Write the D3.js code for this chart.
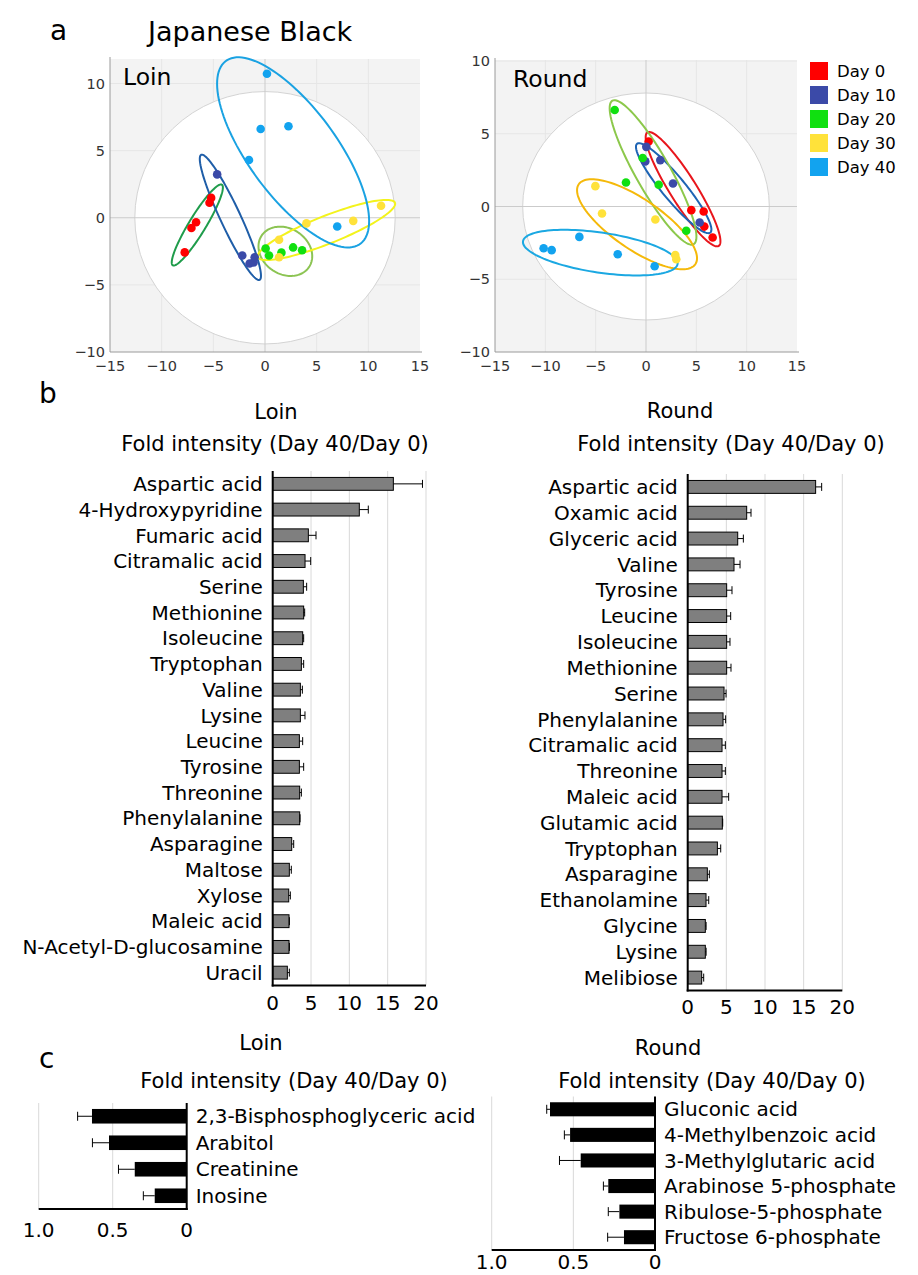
<!DOCTYPE html>
<html>
<head>
<meta charset="utf-8">
<script src="https://cdn.jsdelivr.net/npm/d3@7"></script>
<style>
body { margin: 0; background: #fff; }
svg { display: block; font-family: "DejaVu Sans", sans-serif; }
</style>
</head>
<body>
<svg id="chart" width="918" height="1275"></svg>
<script>
// ---------- data ----------
const dayLabels = ["Day 0", "Day 10", "Day 20", "Day 30", "Day 40"];
const dayColors = ["#ff0000", "#3b4aa8", "#10e010", "#ffe23a", "#12a3ef"];

// PCA scores, one array per day (5 animals)
const loinPcaX = [
	[-7.77, -7.12, -6.67, -5.37, -5.21],
	[-4.63, -2.2, -1.49, -1.1, -1.0],
	[0.06, 0.39, 1.59, 2.72, 3.59],
	[1.36, 1.36, 4.01, 8.54, 11.23],
	[0.19, -0.42, 2.27, -1.55, 6.99]
];
const loinPcaY = [
	[-2.58, -0.76, -0.34, 1.12, 1.48],
	[3.23, -2.81, -3.41, -3.33, -2.94],
	[-2.29, -2.81, -2.6, -2.21, -2.42],
	[-1.64, -2.94, -0.42, -0.23, 0.89],
	[10.73, 6.61, 6.82, 4.3, -0.65]
];
const roundPcaX = [
	[0.26, 4.5, 5.73, 5.79, 6.62],
	[0.03, -0.07, 1.42, 2.68, 5.33],
	[-3.11, -1.99, -0.33, 1.26, 4.0],
	[-5.03, -4.37, 0.93, 2.91, 3.01],
	[-10.17, -9.37, -6.62, -2.81, 0.86]
];
const roundPcaY = [
	[4.47, -0.25, -0.34, -1.38, -2.13],
	[4.1, 3.1, 3.19, 1.58, -1.1],
	[6.63, 1.65, 3.33, 1.49, -1.67],
	[1.4, -0.48, -0.89, -3.33, -3.62],
	[-2.87, -3.0, -2.09, -3.28, -4.11]
];

// group ellipses in score units: centre, major half-axis vector, minor half-axis vector
const loinEllipses = [
	{ cx: -6.55, cy: -0.54, ax: 2.38, ay: 3.0, bx: 0.68, by: -0.35 },
	{ cx: -3.35, cy: 0.03, ax: -2.83, ay: 4.66, bx: 0.87, by: 0.34 },
	{ cx: 1.97, cy: -2.5, ax: 2.4, ay: -1.03, bx: -1.0, by: -1.52 },
	{ cx: 5.95, cy: -0.91, ax: 6.63, ay: 2.02, bx: 0.46, by: -0.97 },
	{ cx: 2.72, cy: 4.87, ax: 6.57, ay: -6.77, bx: 3.31, by: 2.08 }
];
const roundEllipses = [
	{ cx: 3.68, cy: 1.19, ax: 3.54, ay: -3.9, bx: 1.12, by: 0.49 },
	{ cx: 2.75, cy: 1.26, ax: 3.64, ay: -3.05, bx: 0.89, by: 0.51 },
	{ cx: 0.7, cy: 2.34, ax: 4.04, ay: -4.93, bx: 1.5, by: 0.59 },
	{ cx: -0.89, cy: -1.22, ax: 5.79, ay: -2.75, bx: 1.41, by: 1.42 },
	{ cx: -4.54, cy: -3.17, ax: 7.68, ay: -0.78, bx: 0.29, by: 1.36 }
];
const loinEllipseColors = ["#1f9c4b", "#1f5ea8", "#8cc453", "#f3f31c", "#1aa2e2"];
const roundEllipseColors = ["#e8161c", "#1e64b4", "#8cc84b", "#f5b90a", "#1ba8e2"];

// Hotelling T2 ellipse radii (score units)
const loinCircleRadii = [12.6, 9.4];
const roundCircleRadii = [12.25, 7.8];
const pcaXTicks = [-15, -10, -5, 0, 5, 10, 15];
const pcaYTicks = [-10, -5, 0, 5, 10];

// b: increased metabolites (fold Day 40 / Day 0)
const loinUpNames = ["Aspartic acid", "4-Hydroxypyridine", "Fumaric acid", "Citramalic acid", "Serine",
	"Methionine", "Isoleucine", "Tryptophan", "Valine", "Lysine", "Leucine", "Tyrosine", "Threonine",
	"Phenylalanine", "Asparagine", "Maltose", "Xylose", "Maleic acid", "N-Acetyl-D-glucosamine", "Uracil"];
const loinUpValues = [15.74, 11.3, 4.65, 4.22, 4.0, 4.04, 3.91, 3.74, 3.61, 3.61, 3.48, 3.48, 3.52,
	3.52, 2.48, 2.17, 2.09, 2.13, 2.13, 1.91];
const loinUpErrors = [3.8, 1.17, 1.0, 0.74, 0.43, 0.13, 0.13, 0.3, 0.26, 0.6, 0.43, 0.56, 0.22,
	0.05, 0.26, 0.26, 0.21, 0.05, 0.05, 0.26];

const roundUpNames = ["Aspartic acid", "Oxamic acid", "Glyceric acid", "Valine", "Tyrosine", "Leucine",
	"Isoleucine", "Methionine", "Serine", "Phenylalanine", "Citramalic acid", "Threonine", "Maleic acid",
	"Glutamic acid", "Tryptophan", "Asparagine", "Ethanolamine", "Glycine", "Lysine", "Melibiose"];
const roundUpValues = [16.55, 7.63, 6.47, 5.99, 5.04, 5.04, 5.04, 5.04, 4.7, 4.57, 4.44, 4.44, 4.44,
	4.48, 3.84, 2.54, 2.37, 2.28, 2.28, 1.81];
const roundUpErrors = [0.78, 0.56, 0.73, 0.78, 0.69, 0.52, 0.43, 0.56, 0.26, 0.34, 0.43, 0.43, 0.86,
	0.05, 0.43, 0.26, 0.35, 0.1, 0.1, 0.26];
const upTicks = [0, 5, 10, 15, 20];

// c: decreased metabolites
const loinDownNames = ["2,3-Bisphosphoglyceric acid", "Arabitol", "Creatinine", "Inosine"];
const loinDownValues = [0.64, 0.525, 0.351, 0.216];
const loinDownErrors = [0.097, 0.112, 0.11, 0.077];

const roundDownNames = ["Gluconic acid", "4-Methylbenzoic acid", "3-Methylglutaric acid",
	"Arabinose 5-phosphate", "Ribulose-5-phosphate", "Fructose 6-phosphate"];
const roundDownValues = [0.643, 0.52, 0.455, 0.286, 0.218, 0.19];
const roundDownErrors = [0.02, 0.035, 0.13, 0.03, 0.068, 0.1];
const downTicks = [0, 0.5, 1.0];


const svg = d3.select("#chart");
svg.append("rect").attr("width", 918).attr("height", 1275).attr("fill", "#fff");


function drawPca(box, pcaX, pcaY, ellipses, ellipseColors, circleRadii, title) {
	const g = svg.append("g");
	const x = d3.scaleLinear().domain([-15, 15]).range([box.left, box.right]);
	const y = d3.scaleLinear().domain([-10, 10]).range([box.bottom, box.top]);

	// grey plot area
	g.append("rect")
		.attr("x", x(-15)).attr("y", box.bgTop)
		.attr("width", x(15) - x(-15)).attr("height", y(-10) - box.bgTop)
		.attr("fill", "#f3f3f3");

	// faint grid
	g.selectAll("line.vgrid").data(pcaXTicks.filter(t => t !== 0 && Math.abs(t) < 15)).join("line")
		.attr("x1", d => x(d)).attr("x2", d => x(d))
		.attr("y1", box.bgTop).attr("y2", y(-10))
		.attr("stroke", "#e6e6e6");
	g.selectAll("line.hgrid").data(pcaYTicks.filter(t => t !== 0 && t > -10)).join("line")
		.attr("x1", x(-15)).attr("x2", x(15))
		.attr("y1", d => y(d)).attr("y2", d => y(d))
		.attr("stroke", "#e6e6e6");

	// Hotelling ellipse
	g.append("ellipse")
		.attr("cx", x(0)).attr("cy", y(0))
		.attr("rx", x(circleRadii[0]) - x(0)).attr("ry", y(0) - y(circleRadii[1]))
		.attr("fill", "#fff").attr("stroke", "#d4d4d4");

	// zero lines
	g.append("line").attr("x1", x(-15)).attr("x2", x(15)).attr("y1", y(0)).attr("y2", y(0)).attr("stroke", "#cbcbcb");
	g.append("line").attr("x1", x(0)).attr("x2", x(0)).attr("y1", box.bgTop).attr("y2", y(-10)).attr("stroke", "#cbcbcb");

	// axes
	g.append("line").attr("x1", x(-15)).attr("x2", x(-15)).attr("y1", box.bgTop - 2).attr("y2", y(-10)).attr("stroke", "#9a9a9a");
	g.append("line").attr("x1", x(-15)).attr("x2", x(15) + 2).attr("y1", y(-10)).attr("y2", y(-10)).attr("stroke", "#9a9a9a");

	g.selectAll("text.xt").data(pcaXTicks).join("text")
		.attr("x", d => x(d)).attr("y", y(-10) + 19)
		.attr("text-anchor", "middle")
		.attr("font-size", 14.5).attr("fill", "#333")
		.text(d => d < 0 ? "\u2212" + Math.abs(d) : d);
	g.selectAll("text.yt").data(pcaYTicks).join("text")
		.attr("x", x(-15) - 5).attr("y", d => y(d)).attr("dy", "0.35em")
		.attr("text-anchor", "end")
		.attr("font-size", 14.5).attr("fill", "#333")
		.text(d => d < 0 ? "\u2212" + Math.abs(d) : d);

	// group ellipses
	const line = d3.line().x(d => x(d[0])).y(d => y(d[1])).curve(d3.curveLinearClosed);
	g.selectAll("path.group").data(ellipses).join("path")
		.attr("d", e => line(d3.range(0, 360, 3).map(deg => {
			const t = deg * Math.PI / 180;
			return [e.cx + e.ax * Math.cos(t) + e.bx * Math.sin(t), e.cy + e.ay * Math.cos(t) + e.by * Math.sin(t)];
		})))
		.attr("fill", "none")
		.attr("stroke", (e, i) => ellipseColors[i])
		.attr("stroke-width", 2);

	// scores
	pcaX.forEach((xs, day) => {
		g.selectAll(null).data(xs.map((v, i) => [v, pcaY[day][i]])).join("circle")
			.attr("cx", d => x(d[0])).attr("cy", d => y(d[1]))
			.attr("r", 4.3)
			.attr("fill", dayColors[day]);
	});

	g.append("text")
		.attr("x", box.titleX).attr("y", box.titleY)
		.attr("font-size", 23.5)
		.text(title);
}


function drawUpBars(box, names, values, errors, title) {
	const g = svg.append("g");
	const x = d3.scaleLinear().domain([0, 20]).range([box.left, box.right]);
	const y = d3.scaleBand().domain(names).range([box.top, box.bottom]).paddingInner(0.5).paddingOuter(0.25);

	g.append("text").attr("x", box.titleX).attr("y", box.titleY)
		.attr("text-anchor", "middle").attr("font-size", 21).text(title);
	g.append("text").attr("x", box.subX).attr("y", box.subY)
		.attr("text-anchor", "middle").attr("font-size", 21).text("Fold intensity (Day 40/Day 0)");

	g.selectAll("line.grid").data(upTicks.slice(1)).join("line")
		.attr("x1", d => x(d)).attr("x2", d => x(d))
		.attr("y1", box.top).attr("y2", box.bottom)
		.attr("stroke", "#d9d9d9");

	g.selectAll("rect.bar").data(names).join("rect")
		.attr("x", x(0)).attr("y", d => y(d))
		.attr("width", (d, i) => x(values[i]) - x(0)).attr("height", y.bandwidth())
		.attr("fill", "#7f7f7f").attr("stroke", "#000").attr("stroke-width", 1);

	const cap = 4;
	g.selectAll("line.err").data(names).join("line")
		.attr("x1", (d, i) => x(values[i])).attr("x2", (d, i) => x(values[i] + errors[i]))
		.attr("y1", d => y(d) + y.bandwidth() / 2).attr("y2", d => y(d) + y.bandwidth() / 2)
		.attr("stroke", "#000");
	g.selectAll("line.cap").data(names).join("line")
		.attr("x1", (d, i) => x(values[i] + errors[i])).attr("x2", (d, i) => x(values[i] + errors[i]))
		.attr("y1", d => y(d) + y.bandwidth() / 2 - cap).attr("y2", d => y(d) + y.bandwidth() / 2 + cap)
		.attr("stroke", "#000");

	g.append("line").attr("x1", x(0)).attr("x2", x(0)).attr("y1", box.top).attr("y2", box.bottom + 1)
		.attr("stroke", "#000").attr("stroke-width", 2);
	g.append("line").attr("x1", x(0) - 1).attr("x2", x(20)).attr("y1", box.bottom).attr("y2", box.bottom)
		.attr("stroke", "#000").attr("stroke-width", 2);

	g.selectAll("text.cat").data(names).join("text")
		.attr("x", x(0) - 10).attr("y", d => y(d) + y.bandwidth() / 2).attr("dy", "0.36em")
		.attr("text-anchor", "end").attr("font-size", 20)
		.text(d => d);

	g.selectAll("text.tick").data(upTicks).join("text")
		.attr("x", d => x(d)).attr("y", box.bottom + box.tickGap).attr("dy", "0.36em")
		.attr("text-anchor", "middle").attr("font-size", 20)
		.text(d => d);
}


function drawDownBars(box, names, values, errors, title) {
	const g = svg.append("g");
	const x = d3.scaleLinear().domain([0, 1]).range([box.zero, box.one]);
	const y = d3.scaleBand().domain(names).range([box.top, box.bottom]).paddingInner(0.45).paddingOuter(0.225);

	g.append("text").attr("x", box.titleX).attr("y", box.titleY)
		.attr("text-anchor", "middle").attr("font-size", 21).text(title);
	g.append("text").attr("x", box.subX).attr("y", box.subY)
		.attr("text-anchor", "middle").attr("font-size", 21).text("Fold intensity (Day 40/Day 0)");

	g.selectAll("line.grid").data(downTicks.slice(1)).join("line")
		.attr("x1", d => x(d)).attr("x2", d => x(d))
		.attr("y1", box.top).attr("y2", box.bottom)
		.attr("stroke", "#d9d9d9");

	g.selectAll("rect.bar").data(names).join("rect")
		.attr("x", (d, i) => x(values[i])).attr("y", d => y(d))
		.attr("width", (d, i) => x(0) - x(values[i])).attr("height", y.bandwidth())
		.attr("fill", "#000");

	const cap = 4.5;
	g.selectAll("line.err").data(names).join("line")
		.attr("x1", (d, i) => x(values[i])).attr("x2", (d, i) => x(values[i] + errors[i]))
		.attr("y1", d => y(d) + y.bandwidth() / 2).attr("y2", d => y(d) + y.bandwidth() / 2)
		.attr("stroke", "#000");
	g.selectAll("line.cap").data(names).join("line")
		.attr("x1", (d, i) => x(values[i] + errors[i])).attr("x2", (d, i) => x(values[i] + errors[i]))
		.attr("y1", d => y(d) + y.bandwidth() / 2 - cap).attr("y2", d => y(d) + y.bandwidth() / 2 + cap)
		.attr("stroke", "#000");

	g.append("line").attr("x1", x(0)).attr("x2", x(0)).attr("y1", box.top).attr("y2", box.bottom + 1)
		.attr("stroke", "#000").attr("stroke-width", 2);
	g.append("line").attr("x1", x(1)).attr("x2", x(0) + 1).attr("y1", box.bottom).attr("y2", box.bottom)
		.attr("stroke", "#000").attr("stroke-width", 2);

	g.selectAll("text.cat").data(names).join("text")
		.attr("x", x(0) + 9).attr("y", d => y(d) + y.bandwidth() / 2).attr("dy", "0.36em")
		.attr("font-size", 20)
		.text(d => d);

	g.selectAll("text.tick").data(downTicks).join("text")
		.attr("x", d => x(d)).attr("y", box.bottom + box.tickGap).attr("dy", "0.36em")
		.attr("text-anchor", "middle").attr("font-size", 20)
		.text(d => d === 0 ? "0" : d.toFixed(1));
}


// ---------- panel a ----------
svg.append("text").attr("x", 50).attr("y", 40).attr("font-size", 28).text("a");
svg.append("text").attr("x", 148).attr("y", 41).attr("font-size", 27).text("Japanese Black");

drawPca({ left: 110, right: 420, top: 83.5, bottom: 352, bgTop: 59, titleX: 123, titleY: 85 },
	loinPcaX, loinPcaY, loinEllipses, loinEllipseColors, loinCircleRadii, "Loin");
drawPca({ left: 495, right: 797, top: 61, bottom: 352, bgTop: 60, titleX: 513, titleY: 87 },
	roundPcaX, roundPcaY, roundEllipses, roundEllipseColors, roundCircleRadii, "Round");

// legend
const legend = svg.append("g").attr("transform", "translate(810, 62)");
legend.selectAll("rect").data(dayLabels).join("rect")
	.attr("x", 0).attr("y", (d, i) => i * 24)
	.attr("width", 18).attr("height", 18)
	.attr("fill", (d, i) => dayColors[i]);
legend.selectAll("text").data(dayLabels).join("text")
	.attr("x", 27).attr("y", (d, i) => i * 24 + 9).attr("dy", "0.36em")
	.attr("font-size", 16.5)
	.text(d => d);

// ---------- panel b ----------
svg.append("text").attr("x", 39).attr("y", 403).attr("font-size", 28).text("b");
drawUpBars({ left: 272.7, right: 426, top: 471, bottom: 985.5, titleX: 276, titleY: 419, subX: 275, subY: 451, tickGap: 17 },
	loinUpNames, loinUpValues, loinUpErrors, "Loin");
drawUpBars({ left: 687.7, right: 842.3, top: 474, bottom: 990.5, titleX: 680, titleY: 418, subX: 731, subY: 451, tickGap: 16 },
	roundUpNames, roundUpValues, roundUpErrors, "Round");

// ---------- panel c ----------
svg.append("text").attr("x", 39).attr("y", 1068).attr("font-size", 28).text("c");
drawDownBars({ zero: 186.7, one: 38.7, top: 1103, bottom: 1209, titleX: 261, titleY: 1050, subX: 294, subY: 1088, tickGap: 21 },
	loinDownNames, loinDownValues, loinDownErrors, "Loin");
drawDownBars({ zero: 655, one: 491.7, top: 1096.5, bottom: 1250, titleX: 668, titleY: 1055, subX: 712, subY: 1088, tickGap: 12 },
	roundDownNames, roundDownValues, roundDownErrors, "Round");
</script>
</body>
</html>
